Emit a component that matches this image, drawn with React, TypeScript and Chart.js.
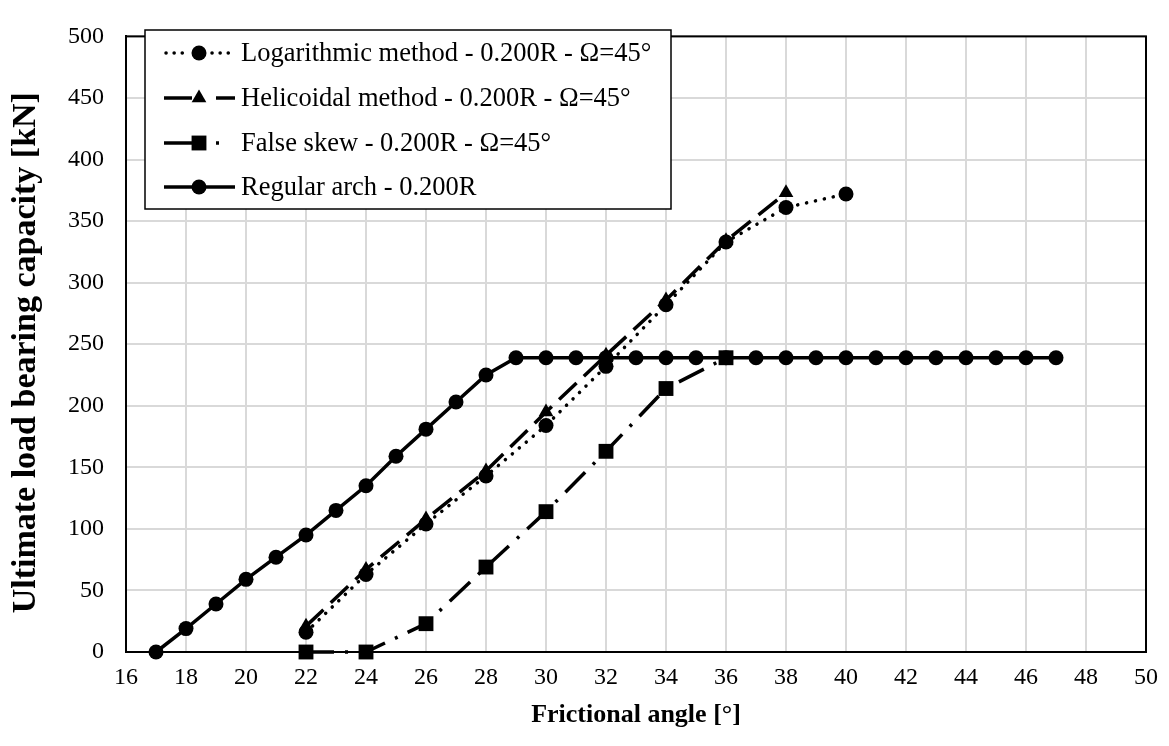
import React, { useEffect, useRef } from 'react';
import { Chart, registerables } from 'chart.js';
Chart.register(...registerables);

const FONT = '"Liberation Serif", "Times New Roman", serif';

const seriesLabels = [
  'Logarithmic method - 0.200R - Ω=45°',
  'Helicoidal method - 0.200R - Ω=45°',
  'False skew - 0.200R - Ω=45°',
  'Regular arch - 0.200R',
];

const logX = [22, 24, 26, 28, 30, 32, 34, 36, 38, 40];
const logY = [16, 63, 104, 143, 184, 232, 282, 333, 361, 372];

const helX = [22, 24, 26, 28, 30, 32, 34, 36, 38];
const helY = [21, 67, 108, 147, 195, 241, 286, 334, 373];

const falseX = [22, 24, 26, 28, 30, 32, 34, 36];
const falseY = [0, 0, 23, 69, 114, 163, 214, 239];

const regularX = [17, 18, 19, 20, 21, 22, 23, 24, 25, 26, 27, 28, 29, 30, 31, 32, 33, 34, 35, 36, 37, 38, 39, 40, 41, 42, 43, 44, 45, 46, 47];
const regularY = [0, 19, 39, 59, 77, 95, 115, 135, 159, 181, 203, 225, 239, 239, 239, 239, 239, 239, 239, 239, 239, 239, 239, 239, 239, 239, 239, 239, 239, 239, 239];

const xTitle = 'Frictional angle [°]';
const yTitle = 'Ultimate load bearing capacity [kN]  ';

const dashes: number[][] = [[0.1, 9], [24, 10], [28, 11, 3, 11], []];
const caps: CanvasLineCap[] = ['round', 'butt', 'butt', 'butt'];
const pointStyles = ['circle', 'triangle', 'rect', 'circle'];
const pointRadii = [7.5, 8.5, 10.5, 7.5];

function drawMarker(ctx: CanvasRenderingContext2D, style: string, x: number, y: number, r: number) {
  ctx.beginPath();
  if (style === 'circle') {
    ctx.arc(x, y, r, 0, Math.PI * 2);
  } else if (style === 'rect') {
    const s = r * Math.SQRT1_2;
    ctx.rect(x - s, y - s, 2 * s, 2 * s);
  } else {
    let rad = 0;
    const step = (2 * Math.PI) / 3;
    ctx.moveTo(x + Math.sin(rad) * r, y - Math.cos(rad) * r);
    rad += step;
    ctx.lineTo(x + Math.sin(rad) * r, y - Math.cos(rad) * r);
    rad += step;
    ctx.lineTo(x + Math.sin(rad) * r, y - Math.cos(rad) * r);
    ctx.closePath();
  }
  ctx.fill();
}

function seg(ctx: CanvasRenderingContext2D, x1: number, x2: number, y: number) {
  ctx.beginPath();
  ctx.moveTo(x1, y);
  ctx.lineTo(x2, y);
  ctx.stroke();
}

export default function App() {
  const ref = useRef<HTMLCanvasElement>(null);

  useEffect(() => {
    const canvas = ref.current!;
    const xs = [logX, helX, falseX, regularX];
    const ys = [logY, helY, falseY, regularY];

    const framePlugin = {
      id: 'frame',
      beforeDatasetsDraw(chart: any) {
        const { ctx, chartArea: a } = chart;
        ctx.save();
        ctx.strokeStyle = '#000';
        ctx.lineWidth = 2;
        ctx.strokeRect(a.left, a.top, a.right - a.left, a.bottom - a.top);
        ctx.restore();
      },
    };

    const legendPlugin = {
      id: 'customLegend',
      afterDraw(chart: any) {
        const ctx: CanvasRenderingContext2D = chart.ctx;
        ctx.save();
        const bx = 145, by = 30, bw = 526, bh = 179;
        ctx.fillStyle = '#fff';
        ctx.fillRect(bx, by, bw, bh);
        ctx.strokeStyle = '#000';
        ctx.lineWidth = 1.5;
        ctx.strokeRect(bx, by, bw, bh);
        const rows = [53, 98, 143, 187];
        seriesLabels.forEach((label, i) => {
          const y = rows[i];
          ctx.strokeStyle = '#000';
          ctx.fillStyle = '#000';
          ctx.lineWidth = 3.5;
          if (i === 0) {
            ctx.lineCap = 'round';
            ctx.setLineDash([0.1, 8]);
            seg(ctx, 166, 188, y);
            seg(ctx, 212, 235, y);
            ctx.setLineDash([]);
          } else if (i === 1) {
            ctx.lineCap = 'butt';
            seg(ctx, 164, 192, y);
            seg(ctx, 216, 235, y);
          } else if (i === 2) {
            ctx.lineCap = 'butt';
            seg(ctx, 164, 192, y);
            seg(ctx, 216, 219, y);
          } else {
            ctx.lineCap = 'butt';
            seg(ctx, 164, 235, y);
          }
          drawMarker(ctx, pointStyles[i], 199, y, pointRadii[i]);
          ctx.font = `26.5px ${FONT}`;
          ctx.textBaseline = 'middle';
          ctx.textAlign = 'left';
          ctx.fillText(label, 241, y + 1);
        });
        ctx.restore();
      },
    };

    const datasets = seriesLabels.map((label, i) => ({
      label,
      data: xs[i].map((x, j) => ({ x, y: ys[i][j] })),
      borderColor: '#000',
      backgroundColor: '#000',
      borderWidth: 3.5,
      borderDash: dashes[i],
      borderCapStyle: caps[i],
      pointStyle: pointStyles[i] as any,
      pointRadius: pointRadii[i],
      pointBackgroundColor: '#000',
      pointBorderColor: '#000',
      pointBorderWidth: 0,
      tension: 0,
      clip: false as any,
    }));

    const chart = new Chart(canvas, {
      type: 'line',
      data: { datasets },
      plugins: [framePlugin, legendPlugin],
      options: {
        animation: false,
        responsive: true,
        maintainAspectRatio: false,
        events: [],
        layout: { padding: { top: 15, right: 23, left: 0, bottom: 0 } },
        plugins: { legend: { display: false }, tooltip: { enabled: false } },
        scales: {
          x: {
            type: 'linear',
            min: 16,
            max: 50,
            afterFit: (s: any) => { s.height = 94; },
            ticks: { stepSize: 2, padding: 11, color: '#000', font: { family: FONT, size: 24 } },
            grid: { color: '#d9d9d9', lineWidth: 2, drawTicks: false },
            border: { display: true, color: '#000', width: 2 },
            title: { display: true, text: xTitle, color: '#000', font: { family: FONT, size: 26, weight: 'bold' }, padding: { top: 0, bottom: 15 } },
          },
          y: {
            type: 'linear',
            min: 0,
            max: 500,
            afterFit: (s: any) => { s.width = 126; },
            ticks: { stepSize: 50, padding: 22, color: '#000', font: { family: FONT, size: 24 } },
            grid: { color: '#d9d9d9', lineWidth: 2, drawTicks: false },
            border: { display: true, color: '#000', width: 2 },
            title: { display: true, text: yTitle, color: '#000', font: { family: FONT, size: 34, weight: 'bold' }, padding: { top: 6, bottom: 0 } },
          },
        },
      },
    });
    return () => chart.destroy();
  }, []);

  return (
    <div style={{ position: 'absolute', left: 0, top: 0, width: 1169, height: 746, background: '#fff' }}>
      <canvas ref={ref} />
    </div>
  );
}
